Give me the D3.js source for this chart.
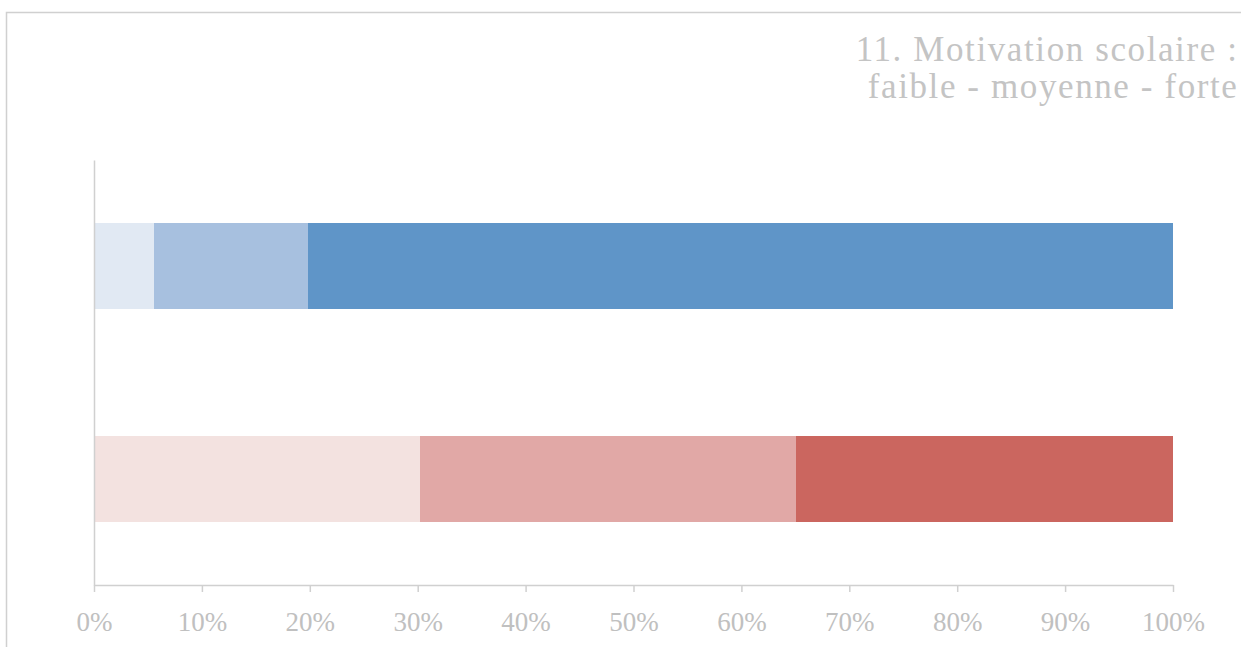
<!DOCTYPE html>
<html>
<head>
<meta charset="utf-8">
<script src="https://cdn.jsdelivr.net/npm/d3@7"></script>
<style>
  html, body { margin: 0; padding: 0; background: #fff; }
  svg { display: block; }
</style>
</head>
<body>
<svg id="chart" width="1241" height="647"></svg>
<script>
// ---- data ----
const categories = ["Groupe 1", "Groupe 2"];
const levels = ["faible", "moyenne", "forte"];
const values1 = [5.6, 14.2, 80.2];   // top bar (blue)
const values2 = [30.2, 34.9, 34.9];  // bottom bar (red)
const tickValues = [0, 10, 20, 30, 40, 50, 60, 70, 80, 90, 100];
const titleLines = ["11. Motivation scolaire :", "faible - moyenne - forte"];
const palette1 = ["#e1e9f3", "#a7c0df", "#5f95c8"];
const palette2 = ["#f3e2e0", "#e1a8a6", "#cb665f"];

const svg = d3.select("#chart");
const W = 1241, H = 647;
const margin = { left: 94, right: 68, top: 160, bottom: 62 };

// frame
svg.append("path")
  .attr("d", `M6.5,${H + 5} L6.5,12.5 L${W + 5},12.5`)
  .attr("fill", "none")
  .attr("stroke", "#d0d0d0")
  .attr("stroke-width", 1.5);

const x = d3.scaleLinear().domain([0, 100]).range([margin.left, W - margin.right]);
const y = d3.scaleBand().domain(categories).range([margin.top, H - margin.bottom])
  .paddingInner(0.596).paddingOuter(0.298);

const series = [values1, values2];
const palettes = [palette1, palette2];

categories.forEach((cat, ci) => {
  const vals = series[ci];
  let cum = 0;
  const segs = vals.map((v, i) => { const s = { x0: cum, x1: cum + v, c: palettes[ci][i] }; cum += v; return s; });
  svg.append("g").selectAll("rect").data(segs).join("rect")
    .attr("x", d => x(d.x0))
    .attr("width", d => x(d.x1) - x(d.x0))
    .attr("y", y(cat))
    .attr("height", y.bandwidth())
    .attr("fill", d => d.c)
    .attr("shape-rendering", "crispEdges");
});

// x axis
const xAxis = svg.append("g")
  .attr("transform", `translate(0,${H - margin.bottom})`)
  .call(d3.axisBottom(x).tickValues(tickValues).tickSize(7).tickSizeOuter(0).tickFormat(d => d + "%"));
xAxis.select(".domain").attr("stroke", "#d0d0d0").attr("stroke-width", 1.5);
xAxis.selectAll(".tick line").attr("stroke", "#d0d0d0").attr("stroke-width", 1.5);
xAxis.selectAll(".tick text")
  .attr("y", 46).attr("dy", 0)
  .attr("fill", "#c0c0c0")
  .style("font-family", "'Liberation Serif', serif")
  .style("font-size", "27px");

// y axis line
const yAxis = svg.append("g")
  .attr("transform", `translate(${margin.left},0)`)
  .call(d3.axisLeft(y).tickSize(0).tickFormat(""));
yAxis.select(".domain").attr("stroke", "#d0d0d0").attr("stroke-width", 1.5);

// title
svg.append("g").selectAll("text").data(titleLines).join("text")
  .attr("x", 1238.5)
  .attr("y", (d, i) => 61 + i * 37)
  .attr("text-anchor", "end")
  .attr("fill", "#c4c4c4")
  .style("font-family", "'Liberation Serif', serif")
  .style("font-size", "35px")
  .style("letter-spacing", "1.6px")
  .text(d => d);
</script>
</body>
</html>
